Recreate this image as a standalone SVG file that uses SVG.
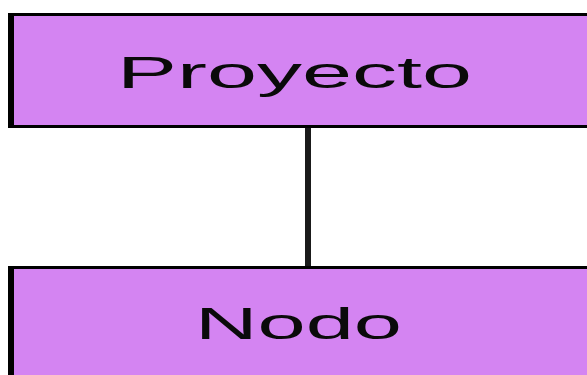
<svg xmlns="http://www.w3.org/2000/svg" width="587" height="375" viewBox="0 0 587 375">
<style>
.box{fill:#d484f2;stroke:#000;stroke-width:3}
.lbl{font-family:"Liberation Sans",Arial,sans-serif;font-size:44px;fill:#0a0a0a;text-anchor:middle}
.conn{fill:#1a1a1a}
</style>
<rect width="587" height="375" fill="#fff"/>
<g id="connectors">
<rect class="conn" x="305" y="128" width="6" height="138"/>
</g>
<g id="node-proyecto" transform="scale(2,1)">
<rect class="box" x="5.5" y="14.5" width="320" height="112"/>
<text class="lbl" x="147.25" y="88" textLength="177.5" lengthAdjust="spacingAndGlyphs">Proyecto</text>
</g>
<g id="node-nodo" transform="scale(2,1)">
<rect class="box" x="5.5" y="267.5" width="320" height="140"/>
<text class="lbl" x="149.25" y="339" textLength="103.5" lengthAdjust="spacingAndGlyphs">Nodo</text>
</g>
</svg>
